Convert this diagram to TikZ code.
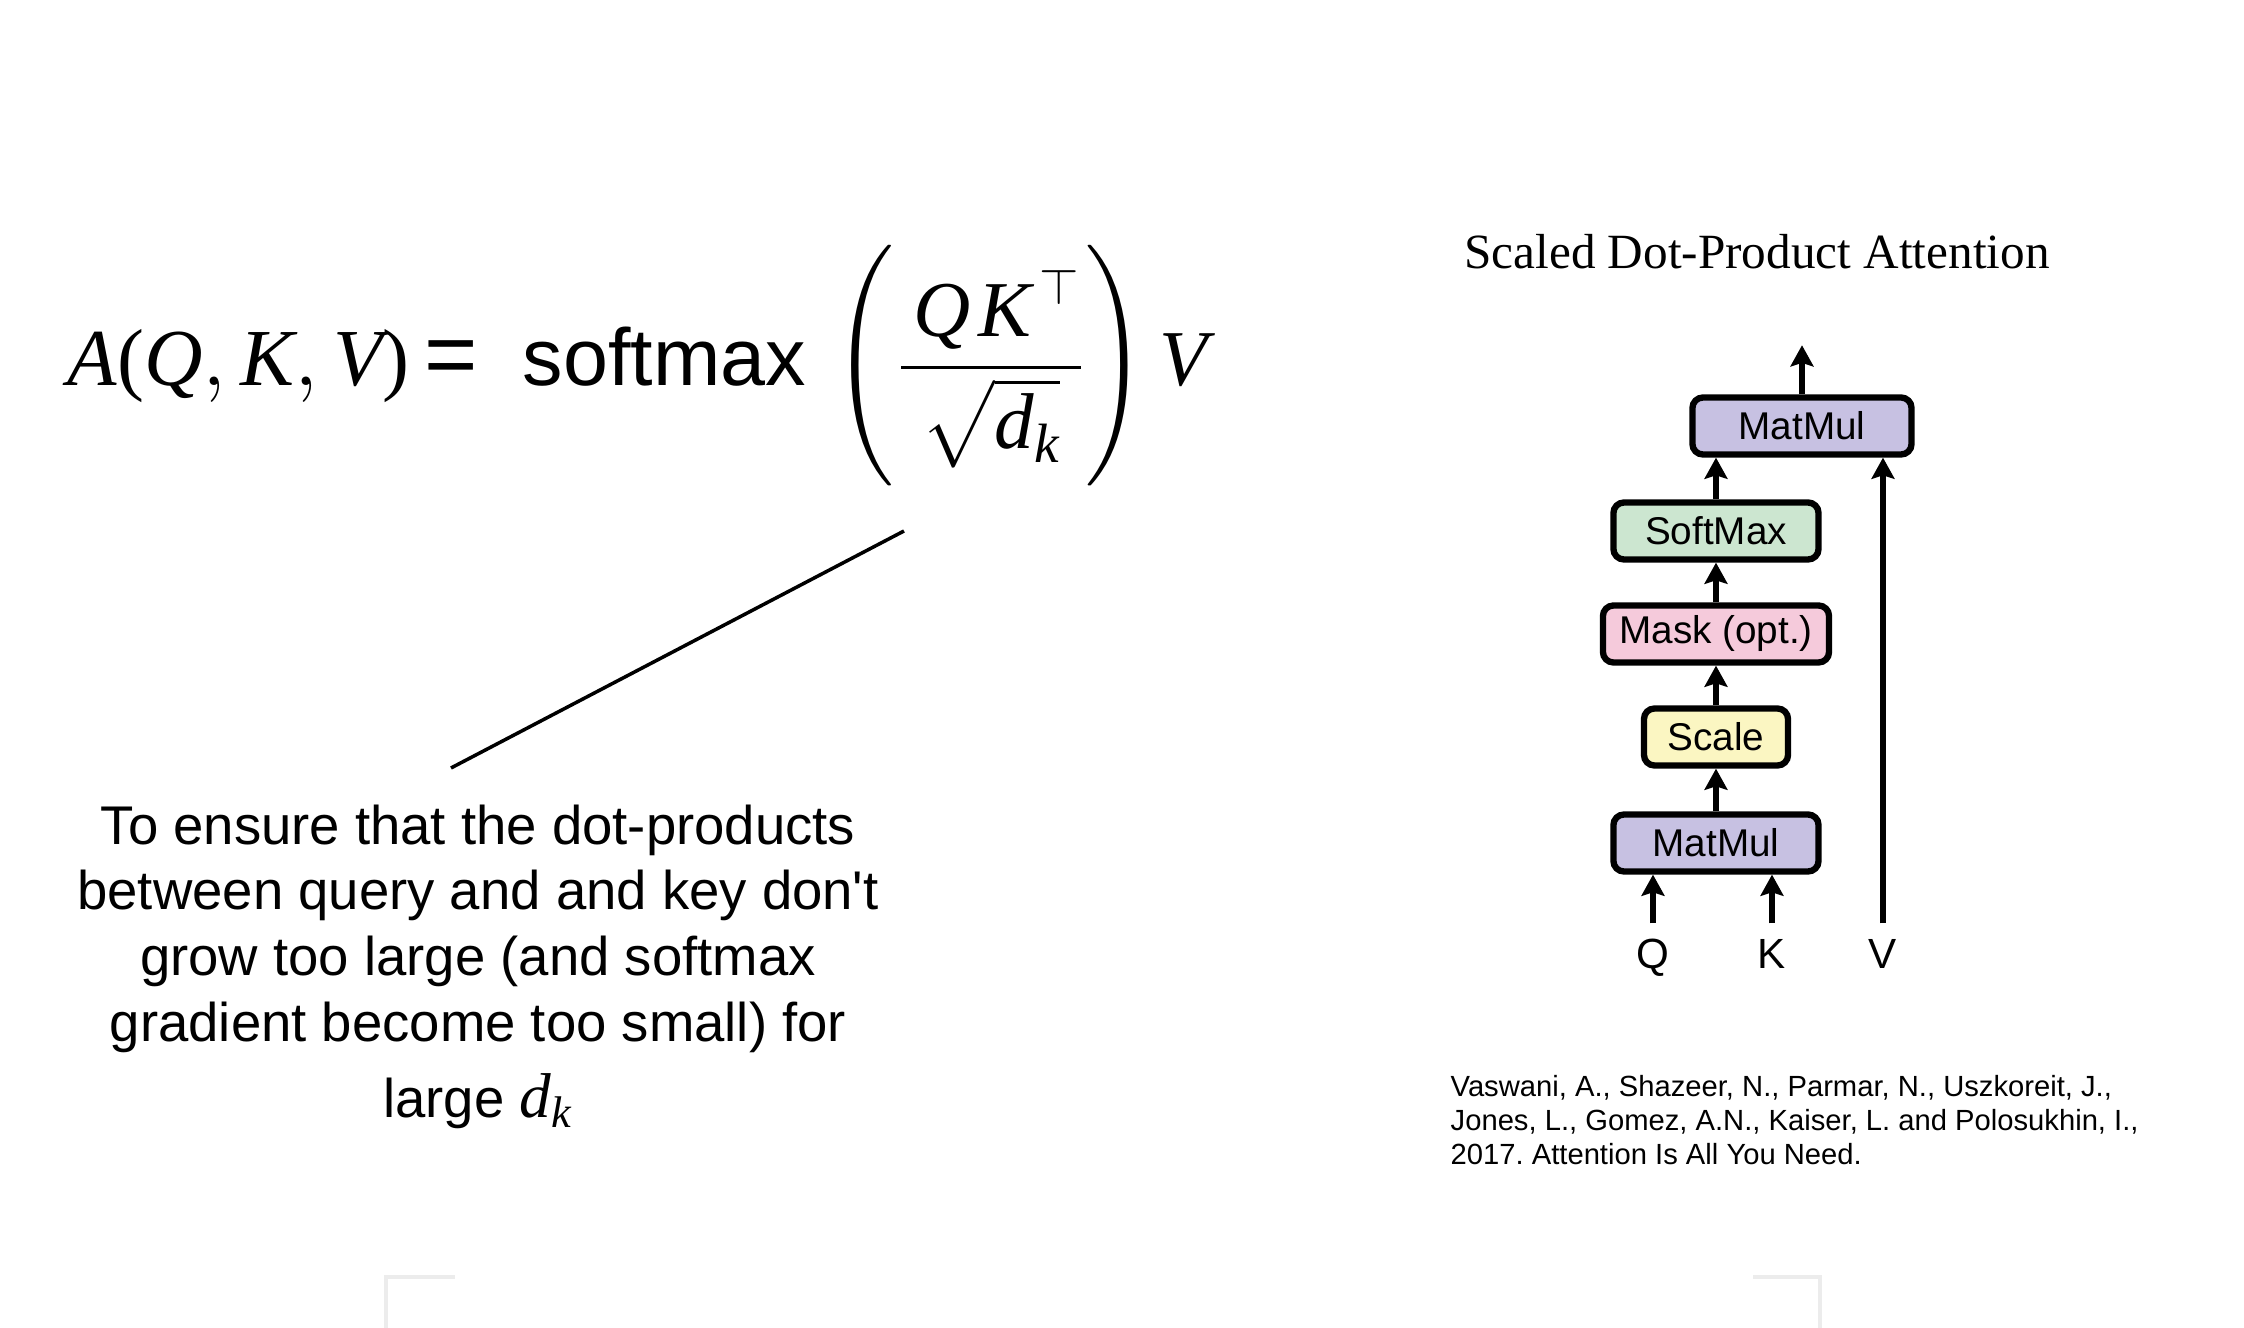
\documentclass[tikz,border=0pt]{standalone}
\usepackage{fontspec}
\usepackage{amsmath}
\usepackage{graphicx}
\setmainfont{Liberation Sans}
\newfontfamily\tms{Liberation Serif}
\usetikzlibrary{arrows.meta, positioning, calc}

\definecolor{matmulcol}{HTML}{C7C1E2}
\definecolor{softmaxcol}{HTML}{CCE6D0}
\definecolor{maskcol}{HTML}{F5CADB}
\definecolor{scalecol}{HTML}{FBF6C2}

\newcommand{\mv}[1]{\text{\tms\itshape #1}}
\frenchspacing

\tikzset{
  block/.style={draw=black, line width=1.8pt, rounded corners=3pt, minimum height=0.57cm, inner sep=0pt, font=\fontsize{11}{13}\selectfont},
  flow/.style={-{Stealth[length=6pt, width=6.5pt, inset=1pt]}, line width=1.8pt},
  inlabel/.style={inner sep=0pt, text height=8.5pt, text depth=2pt, outer sep=4.5pt, font=\fontsize{12}{14}\selectfont},
  formula/.style={inner sep=0pt, font=\fontsize{22.5}{27}\selectfont},
}

\begin{document}
\begin{tikzpicture}[x=0.01cm, y=-0.01cm]
      \useasboundingbox (0,0) rectangle (2244,1328);

      \node[formula, anchor=base west, font=\fontsize{23}{27}\selectfont] (lhs) at (67,386) {$\mv{A}\text{\tms(}\mv{Q},\mv{K},\mv{V}\text{\tms)}\,\text{\fontsize{26}{26}\selectfont=}$};
      \node[formula, anchor=base west, font=\fontsize{23}{27}\selectfont] (smx) at (522,386) {softmax};
      \node[formula, anchor=base] (lp) at (864,386) {\scalebox{1.05}[1.1]{$\Biggl($}};
      \node[formula, anchor=base] (frac) at (991,386) {$\dfrac{\,\mv{Q}\mkern2mu\mv{K}^{\,\top}}{\sqrt{\mv{d}_{\mv{k}}}}$};
      \node[formula, anchor=base] (rp) at (1116,386) {\scalebox{1.05}[1.1]{$\Biggr)$}};
      \node[formula, anchor=base west] (vv) at (1159,386) {$\mv{V}$};

      \node[anchor=north, align=center, inner sep=0pt, font=\fontsize{15.5}{18.7}\selectfont] (note) at (478,804) {To ensure that the dot-products\\between query and and key don\textquotesingle t\\grow too large (and softmax\\gradient become too small) for\\[3pt]large {\fontsize{18}{20}\selectfont$\mv{d}_{\mv{k}}$}};

      \coordinate (lstart) at (904,531);
      \coordinate (lend) at (451,768);
      \draw[line width=1pt] (lstart) -- (lend);

      \node[anchor=base, inner sep=0pt, font=\tms\fontsize{14}{17}\selectfont] (title) at (1757,269) {Scaled Dot-Product Attention};

      \node[block, fill=matmulcol, minimum width=2.05cm] (mm1) at (1716,843) {MatMul};
      \node[block, fill=scalecol, minimum width=1.44cm] (scale) at (1716,737) {Scale};
      \node[block, fill=maskcol, minimum width=2.26cm] (mask) at (1716,634) {Mask (opt.)};
      \node[block, fill=softmaxcol, minimum width=2.05cm] (smax) at (1716,531) {SoftMax};
      \node[block, fill=matmulcol, minimum width=2.19cm] (mm2) at (1802,426) {MatMul};
      \coordinate[above=0.49cm of mm2] (out);

      \node[inlabel, anchor=base] (q) at (1653,969) {Q};
      \node[inlabel, anchor=base] (k) at (1772,969) {K};
      \node[inlabel, anchor=base] (v) at (1883,969) {V};

      \draw[flow] (q.north) -- (q.north |- mm1.south);
      \draw[flow] (k.north) -- (k.north |- mm1.south);
      \draw[flow] (mm1.north) -- (scale.south);
      \draw[flow] (scale.north) -- (mask.south);
      \draw[flow] (mask.north) -- (smax.south);
      \draw[flow] (smax.north) -- (smax.north |- mm2.south);
      \draw[flow] (v.north) -- (v.north |- mm2.south);
      \draw[flow] (mm2.north) -- (out);

      \node[anchor=north west, align=left, inner sep=0pt, font=\fontsize{8.3}{9.6}\selectfont] (ref) at (1450,1075) {Vaswani, A., Shazeer, N., Parmar, N., Uszkoreit, J.,\\Jones, L., Gomez, A.N., Kaiser, L. and Polosukhin, I.,\\2017. Attention Is All You Need.};

      \draw[gray!15, line width=1.2pt] (455,1277) -- (386,1277) -- (386,1328);
      \draw[gray!15, line width=1.2pt] (1753,1277) -- (1820,1277) -- (1820,1328);
    \end{tikzpicture}
\end{document}
